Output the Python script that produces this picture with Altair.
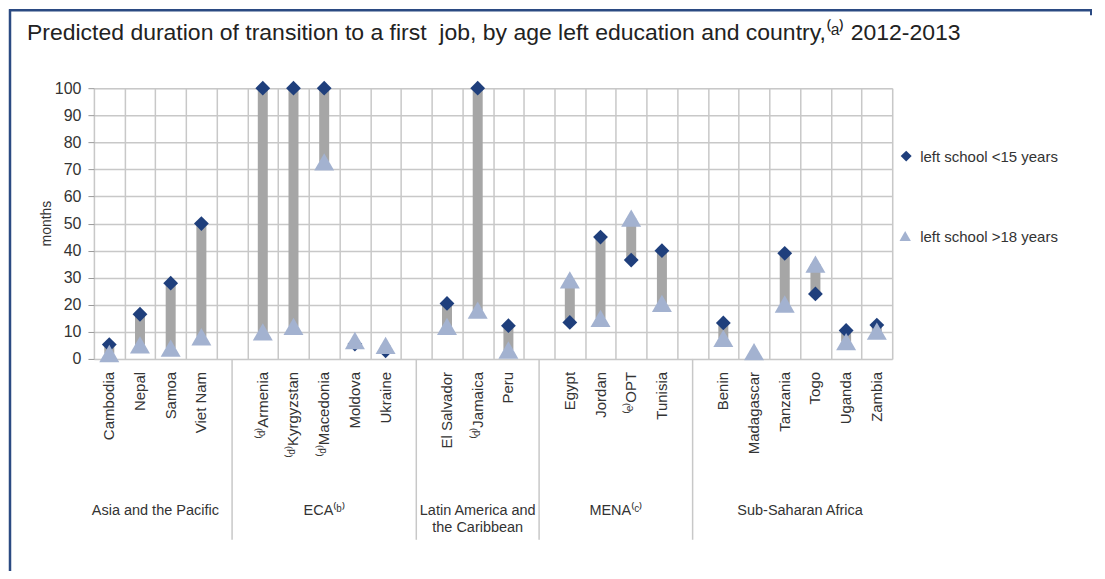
import altair as alt
import pandas as pd

# ---------------- data ----------------
title_text = "Predicted duration of transition to a first\u00a0 job, by age left education and country,\u207d\u1d43\u207e 2012-2013"
region_line1 = ["Asia and the Pacific", "ECA\u207d\u1d47\u207e", "Latin America and", "MENA\u207d\u1d9c\u207e", "Sub-Saharan Africa"]
region_line2 = ["", "", "the Caribbean", "", ""]
region_sizes = [4, 5, 3, 4, 6]
countries = ["Cambodia", "Nepal", "Samoa", "Viet Nam",
             "\u207d\u1d48\u207eArmenia", "\u207d\u1d48\u207eKyrgyzstan", "\u207d\u1d48\u207eMacedonia", "Moldova", "Ukraine",
             "El Salvador", "\u207d\u1d48\u207eJamaica", "Peru",
             "Egypt", "Jordan", "\u207d\u1d49\u207eOPT", "Tunisia",
             "Benin", "Madagascar", "Tanzania", "Togo", "Uganda", "Zambia"]
under15 = [5.3, 16.5, 28, 50, 100, 100, 100, 5.5, 3, 20.5, 100, 12.3,
           13.5, 45, 36.5, 40, 13.3, None, 39, 24, 10.5, 12.5]
over18 = [2, 5.2, 4, 8.2, 10, 12, 72.8, 6.8, 5, 12, 18, 3.3,
          29.2, 15, 52, 20.5, 7.6, 2.7, 20.3, 35, 6.4, 10.3]
legend_labels = ["left school <15 years", "left school >18 years"]
y_title = "months"

# ---------------- layout helpers ----------------
slots, region_centers, separators = [], [], []
idx = 0
for r, n in enumerate(region_sizes):
    start = idx
    for k in range(n):
        slots.append(idx)
        idx += 1
    region_centers.append((start + idx - 1) / 2)
    if r < len(region_sizes) - 1:
        separators.append(idx)
        idx += 1
n_slots = idx  # 26

df = pd.DataFrame({"slot": slots, "country": countries, "u15": under15, "o18": over18})
bars_df = df.dropna(subset=["u15", "o18"])
reg_df = pd.DataFrame({"c": region_centers, "l1": region_line1, "l2": region_line2})
sep_df = pd.DataFrame({"s": separators})

W, H = 799, 271
DARK = "#1f3f7c"
LIGHT = "#a3b2d0"
BAR = "#a6a6a6"
GRID = "#c8c8c8"
TXT = "#333333"
FRAME = "#2b4a82"
FONT = "Liberation Sans"

xscale = alt.Scale(domain=[-0.5, n_slots - 0.5], nice=False, zero=False)
yscale = alt.Scale(domain=[0, 100], nice=False)

x_axis = alt.Axis(values=[i - 0.5 for i in range(n_slots + 1)], tickCount=200, grid=True, labels=False,
                  ticks=False, domain=False, title=None, gridColor=GRID, gridWidth=1.5)
y_axis = alt.Axis(values=list(range(0, 101, 10)), tickCount=200, format="d", grid=True, gridColor=GRID,
                  gridWidth=1.5, domain=False, tickSize=6, tickColor="#999999", labelFontSize=16,
                  labelOverlap=False, labelPadding=7, labelColor=TXT, labelFont=FONT, title=None)

bars = alt.Chart(bars_df).mark_rule(strokeWidth=10, color=BAR).encode(
    x=alt.X("slot:Q", scale=xscale, axis=x_axis),
    y=alt.Y("u15:Q", scale=yscale, axis=y_axis),
    y2="o18:Q",
)

diamonds = alt.Chart(df.dropna(subset=["u15"])).mark_point(
    shape="diamond", filled=True, size=220, color=DARK, opacity=1).encode(
    x=alt.X("slot:Q", scale=xscale, axis=x_axis), y=alt.Y("u15:Q", scale=yscale, axis=y_axis))

triangles = alt.Chart(df.dropna(subset=["o18"])).mark_point(
    shape="triangle-up", filled=True, size=400, color=LIGHT, opacity=1).encode(
    x=alt.X("slot:Q", scale=xscale, axis=x_axis), y=alt.Y("o18:Q", scale=yscale, axis=y_axis))

country_labels = alt.Chart(df).mark_text(
    angle=270, align="right", baseline="middle", fontSize=15, font=FONT, color=TXT).encode(
    x=alt.X("slot:Q", scale=xscale, axis=x_axis), y=alt.value(284), text="country:N")

seps = alt.Chart(sep_df).mark_rule(color=GRID, strokeWidth=1.5).encode(
    x=alt.X("s:Q", scale=xscale, axis=x_axis), y=alt.value(H), y2=alt.value(452))

reg1 = alt.Chart(reg_df).mark_text(
    align="center", baseline="top", fontSize=14.5, font=FONT, color=TXT).encode(
    x=alt.X("c:Q", scale=xscale, axis=x_axis), y=alt.value(416), text="l1:N")
reg2 = alt.Chart(reg_df).mark_text(
    align="center", baseline="top", fontSize=14.5, font=FONT, color=TXT).encode(
    x=alt.X("c:Q", scale=xscale, axis=x_axis), y=alt.value(433), text="l2:N")

title = alt.Chart(pd.DataFrame({"t": [title_text]})).mark_text(
    align="left", baseline="alphabetic", fontSize=23, font=FONT, color="#222222").encode(
    x=alt.value(-67), y=alt.value(-48), text="t:N")

ytitle = alt.Chart(pd.DataFrame({"t": [y_title]})).mark_text(
    angle=270, align="center", baseline="middle", fontSize=14, font=FONT, color=TXT).encode(
    x=alt.value(-47), y=alt.value(H / 2), text="t:N")

leg_d = alt.Chart(pd.DataFrame({"a": [0]})).mark_point(
    shape="diamond", filled=True, size=121, color=DARK, opacity=1).encode(
    x=alt.value(813), y=alt.value(68))
leg_t = alt.Chart(pd.DataFrame({"a": [0]})).mark_point(
    shape="triangle-up", filled=True, size=130, color=LIGHT, opacity=1).encode(
    x=alt.value(812), y=alt.value(148))
leg_t1 = alt.Chart(pd.DataFrame({"t": [legend_labels[0]]})).mark_text(
    align="left", baseline="middle", fontSize=15, font=FONT, color=TXT).encode(
    x=alt.value(827), y=alt.value(69), text="t:N")
leg_t2 = alt.Chart(pd.DataFrame({"t": [legend_labels[1]]})).mark_text(
    align="left", baseline="middle", fontSize=15, font=FONT, color=TXT).encode(
    x=alt.value(827), y=alt.value(149), text="t:N")

one = pd.DataFrame({"a": [0]})
frame_top = alt.Chart(one).mark_rule(color=FRAME, strokeWidth=2.5).encode(
    x=alt.value(-85), x2=alt.value(999), y=alt.value(-78))
frame_left = alt.Chart(one).mark_rule(color=FRAME, strokeWidth=2.5).encode(
    x=alt.value(-84), y=alt.value(-79), y2=alt.value(500))
frame_tick = alt.Chart(one).mark_rule(color=FRAME, strokeWidth=2).encode(
    x=alt.value(998), y=alt.value(-79), y2=alt.value(-73))

chart = alt.layer(
    bars, seps, diamonds, triangles, country_labels, reg1, reg2, title, ytitle,
    leg_d, leg_t, leg_t1, leg_t2, frame_top, frame_left, frame_tick
).properties(
    width=W, height=H,
    autosize=alt.AutoSizeParams(type="none"),
    padding={"left": 86, "top": 80, "right": 205, "bottom": 212},
).configure_view(stroke=None).configure(font=FONT)

chart.save("out.html", embed_options={"renderer": "svg", "actions": False})
